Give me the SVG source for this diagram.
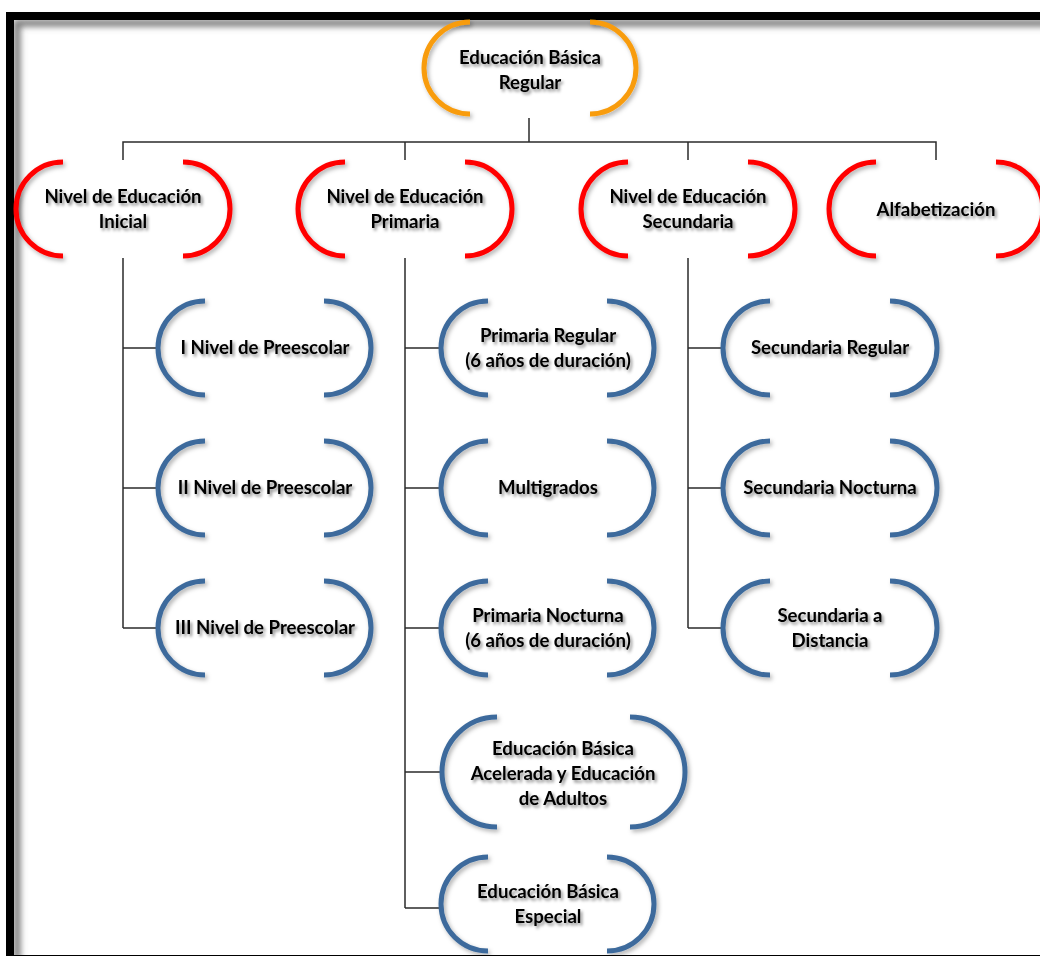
<svg xmlns="http://www.w3.org/2000/svg" width="1040" height="956" viewBox="0 0 1040 956">
<defs>
<filter id="ts" x="-20%" y="-50%" width="140%" height="200%">
<feDropShadow dx="2" dy="2.5" stdDeviation="1.6" flood-color="#000" flood-opacity="0.45"/>
</filter>
<filter id="ss" x="-20%" y="-20%" width="140%" height="140%">
<feDropShadow dx="2" dy="2.5" stdDeviation="2" flood-color="#000" flood-opacity="0.3"/>
</filter>
<filter id="fb" x="-10%" y="-10%" width="120%" height="120%">
<feGaussianBlur stdDeviation="3"/>
</filter>
</defs>
<style>
.arc{fill:none;stroke-width:5;filter:url(#ss)}
.o{stroke:#F89C0E}
.r{stroke:#FF0000}
.b{stroke:#3E6B9C}
text{font-family:"Lato","Liberation Sans",sans-serif;font-weight:bold;font-size:18.6px;fill:#000;text-anchor:middle;filter:url(#ts)}
.ln{fill:none;stroke:#2b2b2b;stroke-width:1.5}
</style>
<rect x="0" y="0" width="1040" height="956" fill="#fff"/>
<!-- frame -->
<path d="M 17 960 L 17 23 L 1050 23" fill="none" stroke="#777" stroke-width="7" filter="url(#fb)"/>
<rect x="10" y="16" width="1045" height="943" fill="none" stroke="#000" stroke-width="8"/>
<g id="connectors">
<path class="ln" d="M 529 118 V 142 M 123 160 V 142 H 936 V 160 M 405 142 V 160 M 688 142 V 160"/>
<path class="ln" d="M 123 258 V 628 M 123 348 H 158 M 123 488 H 158 M 123 628 H 158"/>
<path class="ln" d="M 405 258 V 908 M 405 348 H 440 M 405 488 H 440 M 405 628 H 440 M 405 772 H 442 M 405 908 H 441"/>
<path class="ln" d="M 688 258 V 628 M 688 348 H 722 M 688 488 H 722 M 688 628 H 722"/>
</g>
<g id="n-root">
<path class="arc o" d="M 470 22 A 46 46 0 0 0 470 114 M 590 22 A 46 46 0 0 1 590 114"/>
<text x="530" y="64">Educación Básica</text>
<text x="530" y="89">Regular</text>
</g>
<g id="n-inicial">
<path class="arc r" d="M 63 162 A 47 47 0 0 0 63 256 M 183 162 A 47 47 0 0 1 183 256"/>
<text x="123" y="203">Nivel de Educación</text>
<text x="123" y="228">Inicial</text>
</g>
<g id="n-primaria">
<path class="arc r" d="M 345 162 A 47 47 0 0 0 345 256 M 465 162 A 47 47 0 0 1 465 256"/>
<text x="405" y="203">Nivel de Educación</text>
<text x="405" y="228">Primaria</text>
</g>
<g id="n-secundaria">
<path class="arc r" d="M 628 162 A 47 47 0 0 0 628 256 M 748 162 A 47 47 0 0 1 748 256"/>
<text x="688" y="203">Nivel de Educación</text>
<text x="688" y="228">Secundaria</text>
</g>
<g id="n-alfabetizacion">
<path class="arc r" d="M 876 162 A 47 47 0 0 0 876 256 M 996 162 A 47 47 0 0 1 996 256"/>
<text x="936" y="216">Alfabetización</text>
</g>
<g id="n-pre1">
<path class="arc b" d="M 205 301 A 47 47 0 0 0 205 395 M 324 301 A 47 47 0 0 1 324 395"/>
<text x="265" y="354">I Nivel de Preescolar</text>
</g>
<g id="n-pre2">
<path class="arc b" d="M 205 441 A 47 47 0 0 0 205 535 M 324 441 A 47 47 0 0 1 324 535"/>
<text x="265" y="494">II Nivel de Preescolar</text>
</g>
<g id="n-pre3">
<path class="arc b" d="M 205 581 A 47 47 0 0 0 205 675 M 324 581 A 47 47 0 0 1 324 675"/>
<text x="265" y="634">III Nivel de Preescolar</text>
</g>
<g id="n-prim-regular">
<path class="arc b" d="M 488 301 A 47 47 0 0 0 488 395 M 607 301 A 47 47 0 0 1 607 395"/>
<text x="548" y="342">Primaria Regular</text>
<text x="548" y="367">(6 años de duración)</text>
</g>
<g id="n-multigrados">
<path class="arc b" d="M 488 441 A 47 47 0 0 0 488 535 M 607 441 A 47 47 0 0 1 607 535"/>
<text x="548" y="494">Multigrados</text>
</g>
<g id="n-prim-nocturna">
<path class="arc b" d="M 488 581 A 47 47 0 0 0 488 675 M 607 581 A 47 47 0 0 1 607 675"/>
<text x="548" y="622">Primaria Nocturna</text>
<text x="548" y="647">(6 años de duración)</text>
</g>
<g id="n-acelerada">
<path class="arc b" d="M 497 717 A 55 55 0 0 0 497 827 M 630 717 A 55 55 0 0 1 630 827"/>
<text x="563" y="755">Educación Básica</text>
<text x="563" y="780">Acelerada y Educación</text>
<text x="563" y="805">de Adultos</text>
</g>
<g id="n-especial">
<path class="arc b" d="M 488 857 A 47 47 0 0 0 488 951 M 607 857 A 47 47 0 0 1 607 951"/>
<text x="548" y="898">Educación Básica</text>
<text x="548" y="923">Especial</text>
</g>
<g id="n-sec-regular">
<path class="arc b" d="M 770 301 A 47 47 0 0 0 770 395 M 890 301 A 47 47 0 0 1 890 395"/>
<text x="830" y="354">Secundaria Regular</text>
</g>
<g id="n-sec-nocturna">
<path class="arc b" d="M 770 441 A 47 47 0 0 0 770 535 M 890 441 A 47 47 0 0 1 890 535"/>
<text x="830" y="494">Secundaria Nocturna</text>
</g>
<g id="n-sec-distancia">
<path class="arc b" d="M 770 581 A 47 47 0 0 0 770 675 M 890 581 A 47 47 0 0 1 890 675"/>
<text x="830" y="622">Secundaria a</text>
<text x="830" y="647">Distancia</text>
</g>
</svg>
